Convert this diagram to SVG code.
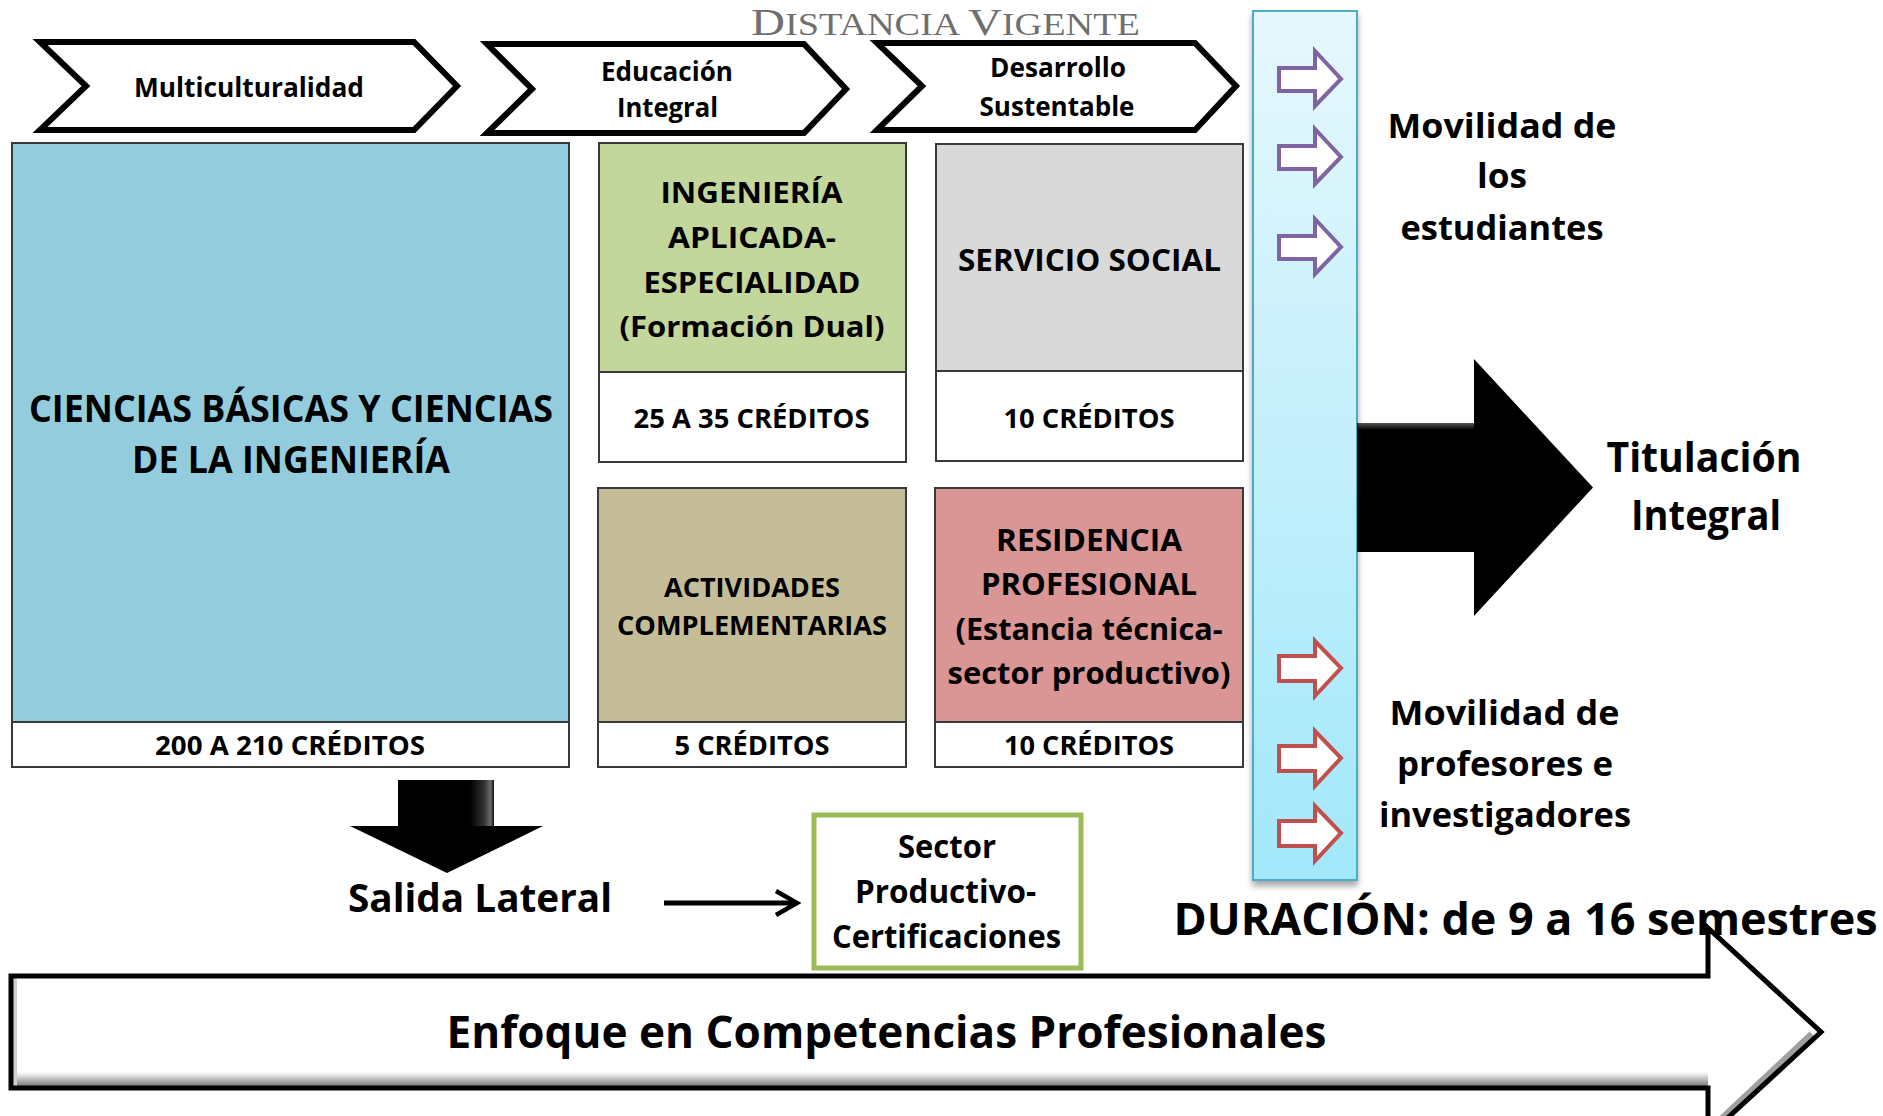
<svg xmlns="http://www.w3.org/2000/svg" width="1883" height="1116" viewBox="0 0 1883 1116">
<defs>
<style>
text{font-family:"Open Sans","Noto Sans","DejaVu Sans",sans-serif;font-weight:700;fill:#000;text-anchor:middle}
.chev{fill:#fff;stroke:#000;stroke-width:6;stroke-linejoin:miter}
.box{stroke:#3a3a3a;stroke-width:2}
.cred{fill:#fff;stroke:#3a3a3a;stroke-width:2}
.pur{fill:#fff;stroke:#8064A2;stroke-width:4;stroke-linejoin:miter}
.red{fill:#fff;stroke:#C0504D;stroke-width:4;stroke-linejoin:miter}
.t26{font-size:26px}.t27{font-size:27px}.t29{font-size:29px}.t30{font-size:30px}
.t32{font-size:32px}.t34{font-size:34px}.t37{font-size:37px}.t40{font-size:40px}.t41{font-size:41px}.t44{font-size:44px}
</style>
<linearGradient id="barG" x1="0" y1="0" x2="0" y2="1">
<stop offset="0" stop-color="#E6F8FD"/>
<stop offset="0.5" stop-color="#C3EFFB"/>
<stop offset="1" stop-color="#A2E8FB"/>
</linearGradient>
<linearGradient id="bevelB" x1="0" y1="0" x2="0" y2="1">
<stop offset="0" stop-color="#ffffff" stop-opacity="0"/>
<stop offset="0.4" stop-color="#d8d8d8"/>
<stop offset="1" stop-color="#7a7a7a"/>
</linearGradient>
<linearGradient id="shaftHL" x1="0" y1="0" x2="1" y2="0">
<stop offset="0" stop-color="#000"/>
<stop offset="0.6" stop-color="#333"/>
<stop offset="0.85" stop-color="#6a6a6a"/>
<stop offset="1" stop-color="#111"/>
</linearGradient>
<linearGradient id="topHL" x1="0" y1="0" x2="0" y2="1">
<stop offset="0" stop-color="#555"/>
<stop offset="1" stop-color="#000"/>
</linearGradient>
<filter id="shadow" x="-20%" y="-5%" width="140%" height="115%">
<feDropShadow dx="0" dy="5" stdDeviation="3" flood-color="#000" flood-opacity="0.35"/>
</filter>
</defs>

<g id="title">
<text x="751" y="35" style="font-family:'Liberation Serif','DejaVu Serif',serif;font-weight:400;fill:#6f6f6f;text-anchor:start" textLength="389" lengthAdjust="spacingAndGlyphs"><tspan font-size="38">D</tspan><tspan font-size="31">ISTANCIA </tspan><tspan font-size="38">V</tspan><tspan font-size="31">IGENTE</tspan></text>
</g>

<g id="chevron-multiculturalidad">
<path class="chev" d="M40,42 L414,42 L457,86 L414,130 L40,130 L86,86 Z"/>
<text class="t26" x="249" y="97" textLength="230" lengthAdjust="spacingAndGlyphs">Multiculturalidad</text>
</g>
<g id="chevron-educacion">
<path class="chev" d="M487,44 L804,44 L846,89 L804,133 L487,133 L532,89 Z"/>
<text class="t26" x="667" y="81" textLength="132" lengthAdjust="spacingAndGlyphs">Educación</text>
<text class="t26" x="667.5" y="117" textLength="101" lengthAdjust="spacingAndGlyphs">Integral</text>
</g>
<g id="chevron-desarrollo">
<path class="chev" d="M877,43 L1195,43 L1236,86 L1195,130 L877,130 L922,86 Z"/>
<text class="t26" x="1058" y="77" textLength="136" lengthAdjust="spacingAndGlyphs">Desarrollo</text>
<text class="t26" x="1057" y="116" textLength="155" lengthAdjust="spacingAndGlyphs">Sustentable</text>
</g>

<g id="ciencias-basicas">
<rect class="box" x="12" y="143" width="557" height="579" fill="#93CDDD"/>
<rect class="cred" x="12" y="722" width="557" height="45"/>
<text class="t37" x="291" y="422" textLength="524" lengthAdjust="spacingAndGlyphs">CIENCIAS BÁSICAS Y CIENCIAS</text>
<text class="t37" x="291" y="473" textLength="318" lengthAdjust="spacingAndGlyphs">DE LA INGENIERÍA</text>
<text class="t27" x="290" y="755" textLength="270" lengthAdjust="spacingAndGlyphs">200 A 210 CRÉDITOS</text>
</g>

<g id="ingenieria-aplicada">
<rect class="box" x="599" y="143" width="307" height="229" fill="#C3D69B"/>
<rect class="cred" x="599" y="372" width="307" height="90"/>
<text class="t29" x="751.5" y="203" textLength="182" lengthAdjust="spacingAndGlyphs">INGENIERÍA</text>
<text class="t29" x="752" y="247.5" textLength="168" lengthAdjust="spacingAndGlyphs">APLICADA-</text>
<text class="t29" x="752" y="292.5" textLength="217" lengthAdjust="spacingAndGlyphs">ESPECIALIDAD</text>
<text class="t29" x="752" y="337" textLength="265" lengthAdjust="spacingAndGlyphs">(Formación Dual)</text>
<text class="t27" x="751.5" y="428" textLength="236" lengthAdjust="spacingAndGlyphs">25 A 35 CRÉDITOS</text>
</g>

<g id="servicio-social">
<rect class="box" x="936" y="144" width="307" height="227" fill="#D9D9D9"/>
<rect class="cred" x="936" y="371" width="307" height="90"/>
<text class="t30" x="1089.5" y="270.5" textLength="263" lengthAdjust="spacingAndGlyphs">SERVICIO SOCIAL</text>
<text class="t27" x="1089" y="427.5" textLength="171" lengthAdjust="spacingAndGlyphs">10 CRÉDITOS</text>
</g>

<g id="actividades-complementarias">
<rect class="box" x="598" y="488" width="308" height="234" fill="#C4BD97"/>
<rect class="cred" x="598" y="722" width="308" height="45"/>
<text class="t27" x="752" y="597" textLength="176" lengthAdjust="spacingAndGlyphs">ACTIVIDADES</text>
<text class="t27" x="752" y="635" textLength="270" lengthAdjust="spacingAndGlyphs">COMPLEMENTARIAS</text>
<text class="t27" x="752" y="755" textLength="155" lengthAdjust="spacingAndGlyphs">5 CRÉDITOS</text>
</g>

<g id="residencia-profesional">
<rect class="box" x="935" y="488" width="308" height="234" fill="#D99694"/>
<rect class="cred" x="935" y="722" width="308" height="45"/>
<text class="t30" x="1089" y="551" textLength="186" lengthAdjust="spacingAndGlyphs">RESIDENCIA</text>
<text class="t30" x="1089" y="595" textLength="216" lengthAdjust="spacingAndGlyphs">PROFESIONAL</text>
<text class="t30" x="1089" y="640" textLength="267" lengthAdjust="spacingAndGlyphs">(Estancia técnica-</text>
<text class="t30" x="1089" y="683.5" textLength="283" lengthAdjust="spacingAndGlyphs">sector productivo)</text>
<text class="t27" x="1089" y="755" textLength="170" lengthAdjust="spacingAndGlyphs">10 CRÉDITOS</text>
</g>

<g id="barra-movilidad">
<rect x="1253" y="11" width="104" height="869" fill="url(#barG)" stroke="#4BACC6" stroke-width="2" filter="url(#shadow)"/>
</g>

<g id="movilidad-estudiantes">
<text class="t34" x="1502" y="137.5" textLength="229" lengthAdjust="spacingAndGlyphs">Movilidad de</text>
<text class="t34" x="1502" y="188" textLength="50" lengthAdjust="spacingAndGlyphs">los</text>
<text class="t34" x="1502" y="240" textLength="203" lengthAdjust="spacingAndGlyphs">estudiantes</text>
</g>

<g id="movilidad-profesores">
<text class="t34" x="1504.5" y="725" textLength="230" lengthAdjust="spacingAndGlyphs">Movilidad de</text>
<text class="t34" x="1505" y="776" textLength="216" lengthAdjust="spacingAndGlyphs">profesores e</text>
<text class="t34" x="1505" y="827" textLength="252" lengthAdjust="spacingAndGlyphs">investigadores</text>
</g>

<g id="titulacion-integral">
<text class="t41" x="1704" y="472" textLength="195" lengthAdjust="spacingAndGlyphs">Titulación</text>
<text class="t41" x="1706" y="530" textLength="150" lengthAdjust="spacingAndGlyphs">Integral</text>
</g>

<g id="salida-lateral">
<text class="t40" x="480" y="912" textLength="264" lengthAdjust="spacingAndGlyphs">Salida Lateral</text>
</g>

<g id="sector-productivo">
<rect x="814" y="815" width="267" height="153" fill="#fff" stroke="#9BBB59" stroke-width="5"/>
<text class="t32" x="947" y="858" textLength="98" lengthAdjust="spacingAndGlyphs">Sector</text>
<text class="t32" x="945.5" y="903" textLength="181" lengthAdjust="spacingAndGlyphs">Productivo-</text>
<text class="t32" x="946.5" y="948" textLength="229" lengthAdjust="spacingAndGlyphs">Certificaciones</text>
</g>

<g id="enfoque-competencias">
<path d="M11,976 L1708,976 L1708,928 L1821,1032 L1708,1136 L1708,1088 L11,1088 Z" fill="#fff"/>
<rect x="13" y="1070" width="1695" height="16" fill="url(#bevelB)"/>
<rect x="13" y="978" width="4" height="108" fill="#cfcfcf"/>
<path d="M1712,1128 L1812,1034" fill="none" stroke="#a0a0a0" stroke-width="7"/>
<path d="M11,976 L1708,976 L1708,928 L1821,1032 L1708,1136 L1708,1088 L11,1088 Z" fill="none" stroke="#000" stroke-width="5"/>
<text class="t44" x="886.5" y="1048" textLength="880" lengthAdjust="spacingAndGlyphs">Enfoque en Competencias Profesionales</text>
</g>

<g id="duracion">
<text class="t44" x="1525.5" y="935" textLength="704" lengthAdjust="spacingAndGlyphs">DURACIÓN: de 9 a 16 semestres</text>
</g>

<g id="connectors">
<path class="pur" d="M1279,68 L1315,68 L1315,51 L1341,79 L1315,106 L1315,91 L1279,91 Z"/>
<path class="pur" d="M1279,146 L1315,146 L1315,129 L1341,157 L1315,184 L1315,169 L1279,169 Z"/>
<path class="pur" d="M1279,236 L1315,236 L1315,219 L1341,247 L1315,274 L1315,259 L1279,259 Z"/>
<path class="red" d="M1279,656 L1315,656 L1315,641 L1341,668 L1315,696 L1315,681 L1279,681 Z"/>
<path class="red" d="M1279,746 L1315,746 L1315,731 L1341,758 L1315,786 L1315,771 L1279,771 Z"/>
<path class="red" d="M1279,821 L1315,821 L1315,806 L1341,833 L1315,861 L1315,846 L1279,846 Z"/>
<path d="M1357,423 L1474,423 L1474,359 L1593,487.5 L1474,616 L1474,552 L1357,552 Z" fill="#000"/>
<rect x="1358" y="423" width="116" height="7" fill="url(#topHL)"/>
<path d="M398,780 L494,780 L494,826 L543,826 L447,873 L350,826 L398,826 Z" fill="#000"/>
<rect x="470" y="780" width="24" height="46" fill="url(#shaftHL)"/>
<line x1="664" y1="903" x2="795" y2="903" stroke="#000" stroke-width="5"/>
<polyline points="776,891 797,903 776,915" fill="none" stroke="#000" stroke-width="4.5"/>
</g>
</svg>
